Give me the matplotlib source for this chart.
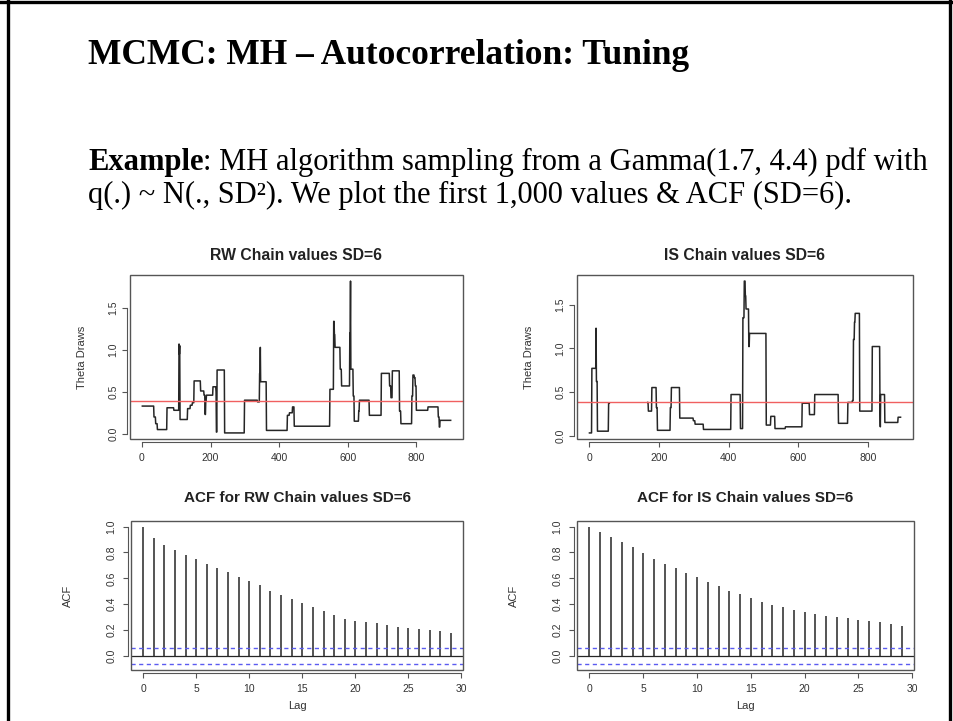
import numpy as np
import matplotlib
matplotlib.use("Agg")
import matplotlib.pyplot as plt
from matplotlib.lines import Line2D
from matplotlib.patches import Rectangle

W, H = 954, 721

# RW chain: index where a value starts, and the value held from there
rw_start = [1, 35, 40, 45, 73, 93, 108, 109, 110, 111, 133, 141, 147, 152, 171,
            181, 184, 186, 188, 207, 216, 217, 219, 241, 299, 337, 343, 345, 346,
            363, 424, 430, 439, 444, 548, 559, 561, 563, 578, 582, 606, 608, 609,
            616, 619, 632, 634, 663, 698, 722, 726, 730, 751, 755, 787, 790, 794,
            797, 800, 834, 864, 867, 869]
rw_value = [0.33, 0.20, 0.12, 0.05, 0.31, 0.28, 1.07, 0.95, 1.05, 0.17, 0.30, 0.34,
            0.37, 0.63, 0.51, 0.46, 0.23, 0.40, 0.46, 0.56, 0.50, 0.02, 0.76, 0.01,
            0.40, 0.38, 0.72, 1.03, 0.62, 0.04, 0.22, 0.25, 0.32, 0.09, 0.53, 1.34,
            1.18, 1.03, 0.77, 0.57, 1.20, 1.82, 0.77, 0.45, 0.15, 0.27, 0.40, 0.22,
            0.72, 0.57, 0.43, 0.75, 0.27, 0.12, 0.45, 0.70, 0.67, 0.57, 0.28, 0.32,
            0.20, 0.08, 0.16]
rw_n = 900

# IS chain (nan = missing stretch, the line breaks there)
is_start = [1, 8, 20, 21, 24, 56, 59, 168, 170, 180, 193, 196, 233, 236, 260, 299,
            304, 328, 407, 434, 441, 445, 448, 450, 458, 460, 508, 521, 533, 563,
            611, 632, 647, 715, 742, 755, 758, 761, 763, 776, 812, 834, 835, 836,
            848, 886]
is_value = [0.03, 0.77, 1.23, 0.62, 0.05, 0.37, np.nan, 0.38, 0.28, 0.55, 0.32, 0.06,
            0.32, 0.55, 0.20, 0.17, 0.13, 0.07, 0.47, 0.08, 1.35, 1.77, 1.60, 1.45,
            1.02, 1.17, 0.12, 0.22, 0.08, 0.10, 0.37, 0.24, 0.47, 0.14, 0.38, 0.40,
            1.10, 1.30, 1.40, 0.28, 1.02, 0.30, 0.10, 0.47, 0.15, 0.21]
is_n = 893

gamma_mean = 1.7 / 4.4

lags = list(range(30))
acf_rw = [1.0, 0.913, 0.86, 0.82, 0.78, 0.747, 0.714, 0.68, 0.645, 0.612, 0.579,
          0.546, 0.503, 0.474, 0.439, 0.406, 0.38, 0.347, 0.319, 0.286, 0.268,
          0.263, 0.253, 0.237, 0.224, 0.217, 0.209, 0.2, 0.194, 0.181]
acf_is = [1.0, 0.957, 0.918, 0.88, 0.842, 0.798, 0.753, 0.714, 0.676, 0.643, 0.607,
          0.571, 0.543, 0.505, 0.477, 0.446, 0.416, 0.395, 0.375, 0.355, 0.339,
          0.327, 0.311, 0.304, 0.296, 0.281, 0.27, 0.26, 0.245, 0.23]
acf_band = 1.96 / np.sqrt(900)

chain_xticks = [0, 200, 400, 600, 800]
chain_yticks = [0.0, 0.5, 1.0, 1.5]
acf_xticks = [0, 5, 10, 15, 20, 25, 30]
acf_yticks = [0.0, 0.2, 0.4, 0.6, 0.8, 1.0]

GREY = "#555555"
INK = "#262626"
SANS = "Liberation Sans"
SERIF = "Liberation Serif"


def expand(starts, values, n):
    ends = list(starts[1:]) + [n + 1]
    out = []
    for s, e, v in zip(starts, ends, values):
        out += [v] * (e - s)
    return np.array(out, dtype=float)


def r_lim(lo, hi):
    pad = 0.04 * (hi - lo)
    return lo - pad, hi + pad


def px_axes(x0, y0, x1, y1):
    return fig.add_axes([x0 / W, 1 - y1 / H, (x1 - x0) / W, (y1 - y0) / H])


def r_style(ax, xticks, yticks, width_px, ylab_off, ypad):
    for s in ["top", "right"]:
        ax.spines[s].set_visible(False)
    for s in ["bottom", "left"]:
        ax.spines[s].set_position(("outward", 2.5))
        ax.spines[s].set_color(GREY)
        ax.spines[s].set_linewidth(0.8)
    ax.set_xticks(xticks)
    ax.set_yticks(yticks)
    ax.set_xticklabels([str(t) for t in xticks])
    ax.set_yticklabels(["%.1f" % t for t in yticks], rotation=90, va="center")
    ax.spines["bottom"].set_bounds(xticks[0], xticks[-1])
    ax.spines["left"].set_bounds(yticks[0], yticks[-1])
    ax.tick_params(length=3.5, width=0.8, color=GREY, labelsize=7.5,
                   labelcolor="#333333")
    ax.tick_params(axis="x", pad=4)
    ax.tick_params(axis="y", pad=ypad)
    for lab in ax.get_xticklabels() + ax.get_yticklabels():
        lab.set_family(SANS)
    ax.add_patch(Rectangle((0, 0), 1, 1, transform=ax.transAxes, fill=False,
                           ec=GREY, lw=1.0, clip_on=False, zorder=5))
    ax.yaxis.set_label_coords(-ylab_off / width_px, 0.5)


fig = plt.figure(figsize=(W / 100, H / 100), dpi=100)

# slide frame
for xs, ys in [([0, 1], [1 - 1.5 / H] * 2), ([8 / W] * 2, [0, 1]), ([950 / W] * 2, [0, 1])]:
    fig.add_artist(Line2D(xs, ys, color="black", lw=2.4))

fig.text(88 / W, 1 - 64 / H, "MCMC: MH \u2013 Autocorrelation: Tuning",
         family=SERIF, fontweight="bold", fontsize=25.5, va="baseline")

renderer = fig.canvas.get_renderer()
t1 = fig.text(88 / W, 1 - 170 / H, "Example", family=SERIF, fontweight="bold",
              fontsize=22, va="baseline")
bb = t1.get_window_extent(renderer)
fig.text(bb.x1 / W, 1 - 170 / H,
         ": MH algorithm sampling from a Gamma(1.7, 4.4) pdf with",
         family=SERIF, fontsize=22, va="baseline")
fig.text(88 / W, 1 - 203 / H,
         "q(.) ~ N(., SD\u00b2). We plot the first 1,000 values & ACF (SD=6).",
         family=SERIF, fontsize=22, va="baseline")

rw = expand(rw_start, rw_value, rw_n)
iss = expand(is_start, is_value, is_n)

panels = [
    ((130, 275, 463, 439), rw, "RW Chain values SD=6"),
    ((577, 275, 913, 439), iss, "IS Chain values SD=6"),
]
for (x0, y0, x1, y1), series, title in panels:
    ax = px_axes(x0, y0, x1, y1)
    idx = np.arange(1, len(series) + 1)
    ax.plot(idx, series, color=INK, lw=1.1)
    ax.axhline(gamma_mean, color="#f06060", lw=1.0)
    ax.set_xlim(*r_lim(1, len(series)))
    ax.set_ylim(*r_lim(np.nanmin(series), np.nanmax(series)))
    r_style(ax, chain_xticks, chain_yticks, x1 - x0, 43, 2.5)
    ax.set_ylabel("Theta Draws", family=SANS, fontsize=8, color="#333333")
    ax.set_title(title, family=SANS, fontweight="bold", fontsize=11.3, pad=11,
                 color="#222222")

acf_panels = [
    ((131, 521, 463, 670), acf_rw, "ACF for RW Chain values SD=6"),
    ((577, 521, 914, 670), acf_is, "ACF for IS Chain values SD=6"),
]
for (x0, y0, x1, y1), acf, title in acf_panels:
    ax = px_axes(x0, y0, x1, y1)
    ax.vlines(lags, 0, acf, color=INK, lw=1.1)
    ax.axhline(0, color=INK, lw=0.9)
    for b in (acf_band, -acf_band):
        ax.axhline(b, color="#5b5bf0", lw=1.0, ls=(0, (3, 2.5)))
    ax.set_xlim(*r_lim(0, lags[-1]))
    ax.set_ylim(*r_lim(-acf_band, 1.0))
    r_style(ax, acf_xticks, acf_yticks, x1 - x0, 58, 4.5)
    ax.set_ylabel("ACF", family=SANS, fontsize=8, color="#333333")
    ax.set_xlabel("Lag", family=SANS, fontsize=8, color="#333333", labelpad=5)
    ax.set_title(title, family=SANS, fontweight="bold", fontsize=11, pad=14,
                 color="#222222")

fig.savefig("out.png", dpi=100)
